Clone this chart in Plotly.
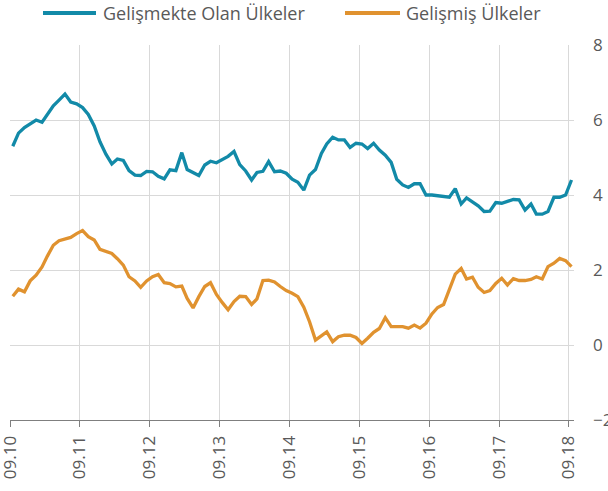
import pandas as pd
import plotly.graph_objects as go

# Monthly observations, Sep 2010 - Sep 2018 (mid-month)
dates = pd.date_range("2010-09-01", periods=97, freq="MS") + pd.Timedelta(days=14)

gelismekte = [
    5.30, 5.65, 5.80, 5.91, 6.00, 5.94, 6.14, 6.38, 6.53, 6.69,
    6.48, 6.43, 6.33, 6.15, 5.84, 5.42, 5.09, 4.83, 4.96, 4.92,
    4.65, 4.53, 4.52, 4.63, 4.62, 4.50, 4.43, 4.67, 4.65, 5.13,
    4.68, 4.59, 4.52, 4.80, 4.90, 4.86, 4.95, 5.03, 5.16, 4.81,
    4.64, 4.40, 4.60, 4.63, 4.89, 4.62, 4.64, 4.58, 4.42, 4.34,
    4.13, 4.53, 4.68, 5.11, 5.36, 5.54, 5.47, 5.47, 5.27, 5.38,
    5.36, 5.24, 5.38, 5.20, 5.06, 4.87, 4.42, 4.27, 4.20, 4.30,
    4.30, 4.00, 4.00, 3.98, 3.96, 3.94, 4.17, 3.76, 3.92, 3.82,
    3.71, 3.56, 3.57, 3.80, 3.78, 3.83, 3.88, 3.87, 3.60, 3.76,
    3.49, 3.49, 3.56, 3.94, 3.94, 4.00, 4.40,
]

gelismis = [
    1.30, 1.49, 1.42, 1.71, 1.86, 2.08, 2.37, 2.66, 2.78, 2.82,
    2.87, 2.97, 3.05, 2.89, 2.80, 2.55, 2.49, 2.44, 2.30, 2.13,
    1.82, 1.71, 1.54, 1.71, 1.82, 1.88, 1.66, 1.64, 1.55, 1.57,
    1.24, 0.99, 1.29, 1.56, 1.66, 1.35, 1.13, 0.94, 1.16, 1.30,
    1.29, 1.08, 1.23, 1.72, 1.73, 1.68, 1.56, 1.45, 1.38, 1.29,
    1.01, 0.62, 0.13, 0.24, 0.35, 0.09, 0.22, 0.26, 0.26, 0.20,
    0.04, 0.18, 0.34, 0.44, 0.73, 0.49, 0.49, 0.49, 0.45, 0.53,
    0.45, 0.58, 0.83, 1.00, 1.08, 1.47, 1.89, 2.04, 1.76, 1.81,
    1.54, 1.40, 1.45, 1.64, 1.78, 1.60, 1.77, 1.72, 1.72, 1.75,
    1.82, 1.76, 2.09, 2.18, 2.31, 2.25, 2.09,
]

series_names = ["Gelişmekte Olan Ülkeler", "Gelişmiş Ülkeler"]
colors = ["#128aa8", "#e0922f"]

tick_dates = pd.date_range("2010-09-01", periods=9, freq="12MS")
tick_labels = ["09.10", "09.11", "09.12", "09.13", "09.14", "09.15", "09.16", "09.17", "09.18"]
y_ticks = [-2, 0, 2, 4, 6, 8]

FONT = "Open Sans"
GRAY = "#595959"

W, H = 608, 491
ML, MR, MT, MB = 10, 34, 45, 71
PW, PH = W - ML - MR, H - MT - MB


def px_to_paper_x(px):
    return (px - ML) / PW


def px_to_paper_y(py):
    return (H - MB - py) / PH


fig = go.Figure()
for name, vals, col in zip(series_names, [gelismekte, gelismis], colors):
    fig.add_trace(go.Scatter(
        x=dates, y=vals, mode="lines", name=name,
        line=dict(color=col, width=3.3),
        showlegend=False,
    ))

# Custom legend (longer line keys, as in the original)
legend_items = [(43, 96, 101), (345, 400, 404)]
for (x0, x1, xt), name, col in zip(legend_items, series_names, colors):
    yl = px_to_paper_y(13)
    fig.add_shape(type="line", xref="paper", yref="paper",
                  x0=px_to_paper_x(x0), x1=px_to_paper_x(x1), y0=yl, y1=yl,
                  line=dict(color=col, width=4))
    fig.add_annotation(xref="paper", yref="paper", x=px_to_paper_x(xt), y=yl,
                       text=name, showarrow=False, xanchor="left", yanchor="middle",
                       font=dict(size=18, color=GRAY, family=FONT))

fig.update_layout(
    width=W, height=H,
    margin=dict(l=ML, r=MR, t=MT, b=MB),
    paper_bgcolor="white", plot_bgcolor="white",
    font=dict(family=FONT, color=GRAY),
    showlegend=False,
    xaxis=dict(
        type="date",
        range=["2010-08-31 12:00", "2018-09-28"],
        tickvals=tick_dates, ticktext=tick_labels,
        tickangle=-90,
        tickfont=dict(size=17, color=GRAY, family=FONT),
        showgrid=True, gridcolor="#d9d9d9", gridwidth=1,
        showline=True, linecolor="#7f7f7f", linewidth=1,
        ticks="outside", ticklen=6, tickcolor="#7f7f7f",
        ticklabelstandoff=2,
        zeroline=False, automargin=False, ticklabeloverflow="allow",
    ),
    yaxis=dict(
        side="right",
        range=[-2, 8],
        tickvals=y_ticks,
        tickfont=dict(size=17, color=GRAY, family=FONT),
        showgrid=True, gridcolor="#d9d9d9", gridwidth=1,
        zeroline=False, showline=False,
        ticks="", ticklabelstandoff=18, automargin=False,
        ticklabeloverflow="allow",
    ),
)

fig.write_html(
    "out.html",
    config={"displayModeBar": False},
    post_script="document.body.style.margin='0px';document.body.style.overflow='hidden';",
)
